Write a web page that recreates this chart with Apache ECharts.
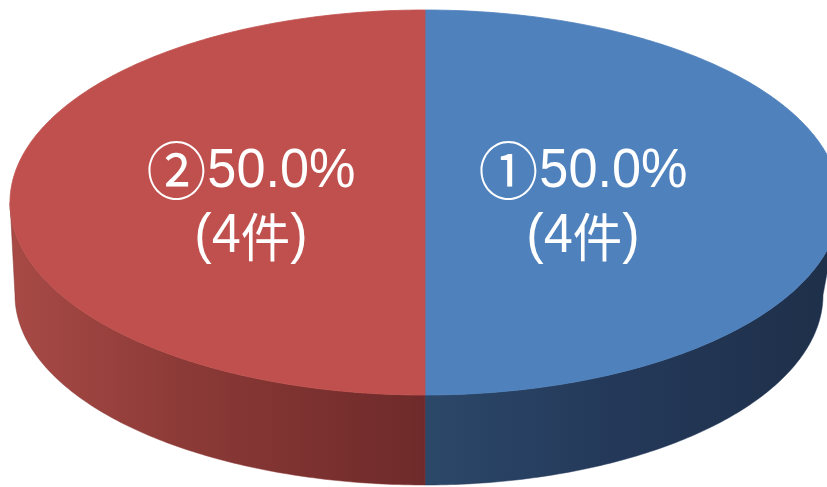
<!DOCTYPE html>
<html>
<head>
<meta charset="utf-8">
<script src="https://cdn.jsdelivr.net/npm/echarts@6/dist/echarts.min.js"></script>
<style>
  html, body { margin: 0; padding: 0; background: #ffffff; }
  #chart { width: 827px; height: 487px; }
</style>
</head>
<body>
<div id="chart"></div>
<script>
// Answer categories and number of responses for each
const categories = ['①', '②'];
const counts = [4, 4];
const unitLabel = '件';

// Face colours (top) and wall shading (side) per slice
const topColors = ['#4f81bd', '#c0504d'];
const sideColors = [
  ['#2c4869', '#24395a', '#1e2f48'],
  ['#a84a46', '#8a3936', '#6e2a2a']
];

// Elliptical disc geometry for the tilted pie (bottom rim is slightly
// wider on the left than on the right, as seen in perspective)
const TOP = { cx: 425, cy: 202.5, rxL: 415, rxR: 415, ry: 192.5 };
const BOTTOM = { cx: 425, cy: 295, rxL: 410, rxR: 398, ry: 190 };
const LABEL = { cx: 417, k: 0.40, y1: 172, y2: 237 };

const total = counts.reduce((a, b) => a + b, 0);

function pt(e, a) {
  const c = Math.cos(a);
  const rx = c < 0 ? e.rxL : e.rxR;
  return [e.cx + rx * c, e.cy + e.ry * Math.sin(a)];
}

function arc(e, a0, a1, n) {
  const pts = [];
  for (let j = 0; j <= n; j++) {
    pts.push(pt(e, a0 + (a1 - a0) * j / n));
  }
  return pts;
}

const latin = "'Liberation Sans', Arial, sans-serif";
const cjk = "'Noto Sans CJK JP', sans-serif";
const labelRich = {
  mark: { fontSize: 63, fontFamily: cjk, fill: '#ffffff', padding: [0, 1, 4, 0] },
  num: { fontSize: 55, fontFamily: latin, fill: '#ffffff' },
  kanji: { fontSize: 52, fontFamily: cjk, fill: '#ffffff' }
};

function renderItem(params, api) {
  const i = params.dataIndex;
  const v = api.value(0);
  const before = counts.slice(0, i).reduce((a, b) => a + b, 0);
  const a0 = -Math.PI / 2 + 2 * Math.PI * before / total;
  const a1 = a0 + 2 * Math.PI * v / total;
  const children = [];

  // front wall: the part of the slice facing the viewer (angles 0..PI, plus wrap)
  [0, 2 * Math.PI].forEach(off => {
    const s = Math.max(a0, off);
    const e = Math.min(a1, off + Math.PI);
    if (e > s) {
      const topArc = arc(TOP, s, e, 120);
      const botArc = arc(BOTTOM, s, e, 120).reverse();
      const c = sideColors[i];
      children.push({
        type: 'polygon',
        z2: 1,
        shape: { points: topArc.concat(botArc) },
        style: {
          fill: new echarts.graphic.LinearGradient(0, 0, 1, 0, [
            { offset: 0, color: c[0] },
            { offset: 0.45, color: c[1] },
            { offset: 1, color: c[2] }
          ]),
          stroke: c[1],
          lineWidth: 0.5
        }
      });
    }
  });

  // top face
  const face = [[TOP.cx, TOP.cy]].concat(arc(TOP, a0, a1, 240));
  children.push({
    type: 'polygon',
    z2: 2,
    shape: { points: face },
    style: { fill: topColors[i], stroke: topColors[i], lineWidth: 0.8 }
  });

  // label: marker + share on the first line, count on the second
  const mid = (a0 + a1) / 2;
  const lx = LABEL.cx + TOP.rxL * LABEL.k * Math.cos(mid);
  const pct = (v / total * 100).toFixed(1) + '%';
  children.push({
    type: 'text',
    z2: 3,
    x: lx, y: LABEL.y1,
    scaleX: 0.95,
    style: {
      text: '{mark|' + categories[i] + '}{num|' + pct + '}',
      rich: labelRich,
      x: 0, y: 0,
      align: 'center',
      verticalAlign: 'middle'
    }
  });
  children.push({
    type: 'text',
    z2: 3,
    x: lx, y: LABEL.y2,
    scaleX: 0.95,
    style: {
      text: '{num|(' + v + '}{kanji|' + unitLabel + '}{num|)}',
      rich: labelRich,
      x: 0, y: 0,
      align: 'center',
      verticalAlign: 'middle'
    }
  });

  return { type: 'group', children: children };
}

const chart = echarts.init(document.getElementById('chart'), null, { renderer: 'canvas' });
chart.setOption({
  backgroundColor: '#ffffff',
  animation: false,
  series: [{
    type: 'custom',
    coordinateSystem: 'none',
    renderItem: renderItem,
    data: counts.map((c, i) => ({ name: categories[i], value: [c] }))
  }]
});
</script>
</body>
</html>
